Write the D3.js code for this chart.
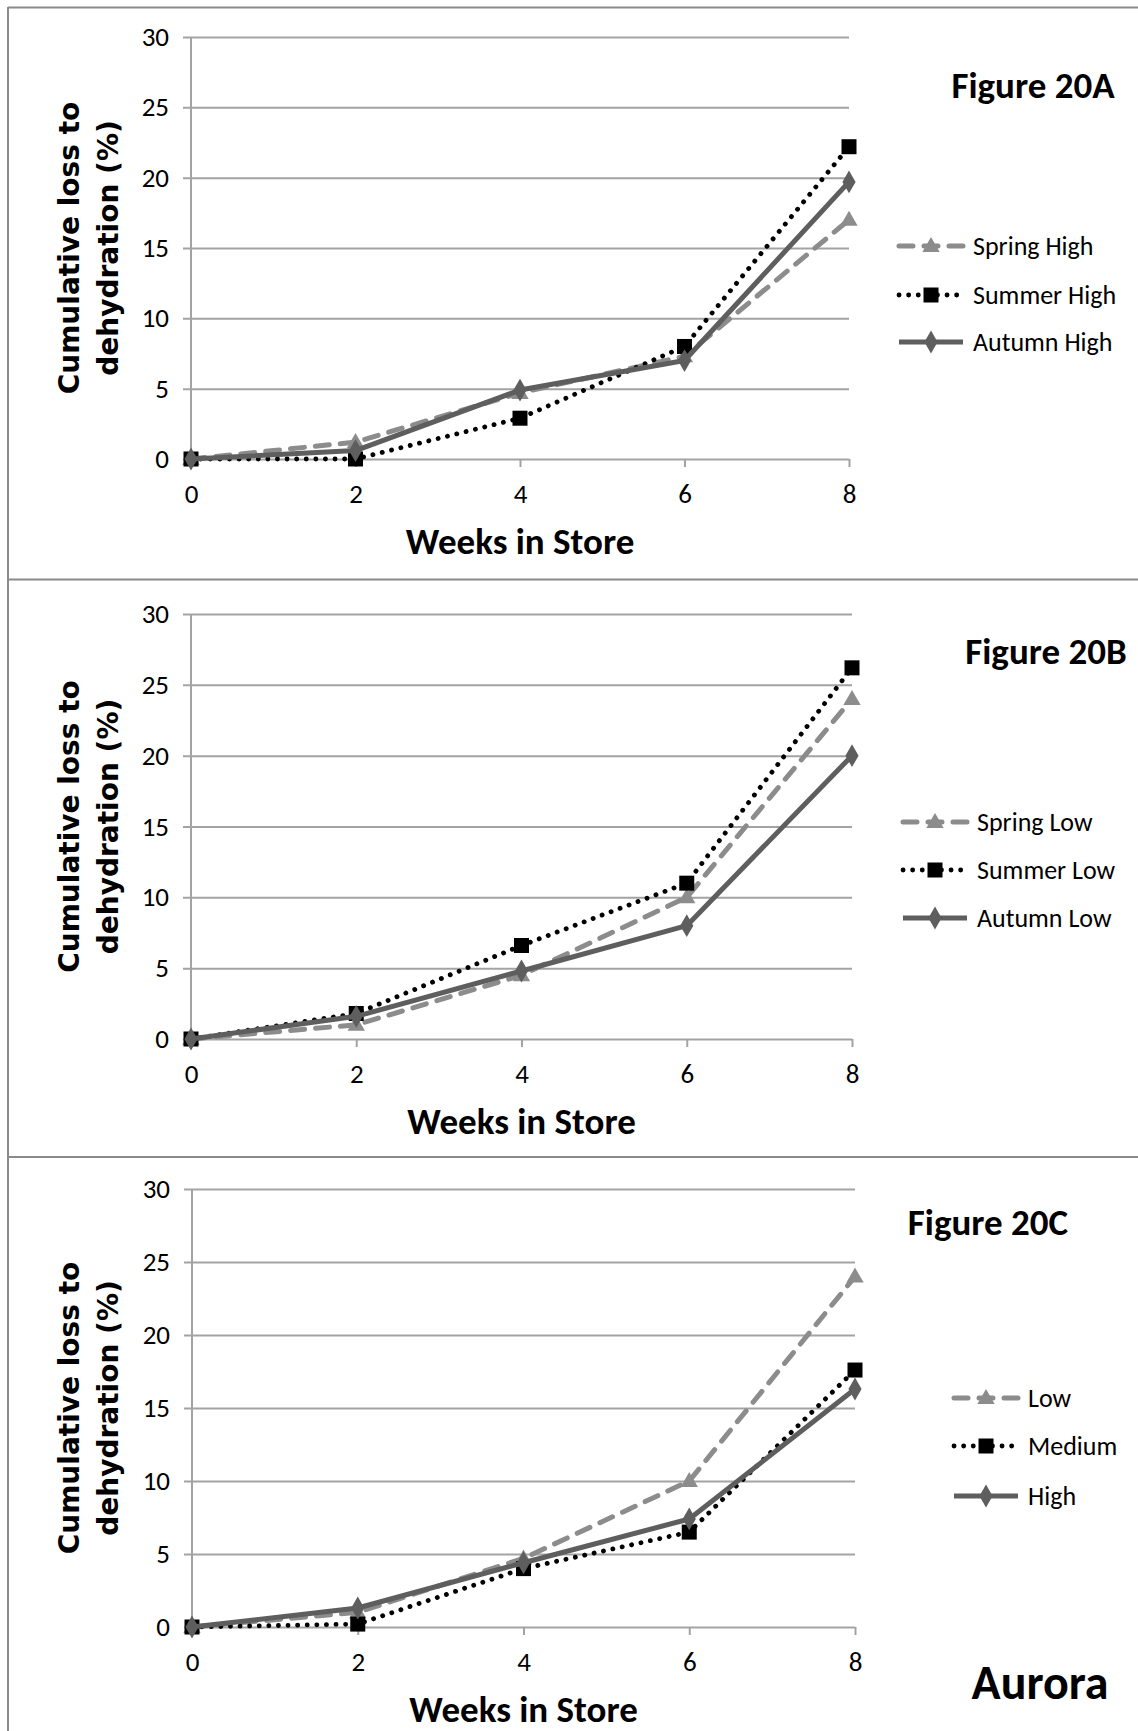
<!DOCTYPE html>
<html>
<head>
<meta charset="utf-8">
<script src="https://cdn.jsdelivr.net/npm/d3@7"></script>
<style>
  html, body { margin: 0; padding: 0; background: #fff; }
  svg { display: block; }
</style>
</head>
<body>
<svg id="chart" width="1138" height="1731"></svg>
<script>
// Weeks in store (x categories) and y-axis ticks
const weeks = [0, 2, 4, 6, 8];
const yTicks = [0, 5, 10, 15, 20, 25, 30];

// Figure 20A: high storage, by season
const springHigh = [0, 1.2, 4.7, 7.3, 17.0];
const summerHigh = [0, 0.0, 2.9, 8.0, 22.2];
const autumnHigh = [0, 0.6, 4.9, 7.0, 19.7];

// Figure 20B: low storage, by season
const springLow = [0, 1.0, 4.5, 10.0, 24.0];
const summerLow = [0, 1.8, 6.6, 11.0, 26.2];
const autumnLow = [0, 1.6, 4.8, 8.0, 20.0];

// Figure 20C: Aurora, by level
const levelLow = [0, 1.0, 4.7, 10.0, 24.0];
const levelMedium = [0, 0.2, 4.0, 6.5, 17.6];
const levelHigh = [0, 1.3, 4.4, 7.4, 16.3];

const panelTitles = ["Figure 20A", "Figure 20B", "Figure 20C"];
const legendA = ["Spring High", "Summer High", "Autumn High"];
const legendB = ["Spring Low", "Summer Low", "Autumn Low"];
const legendC = ["Low", "Medium", "High"];
const xTitle = "Weeks in Store";
const yTitleLines = ["Cumulative loss to", "dehydration (%)"];
const cornerLabel = "Aurora";

// Line styles for the three series in each panel
const styles = [
  { color: "#8c8c8c", width: 5, dash: "14,11", cap: "round", marker: "triangle" },
  { color: "#000000", width: 4.8, dash: "0.1,9.5", cap: "round", marker: "square" },
  { color: "#5e5e5e", width: 5, dash: null, cap: "butt", marker: "diamond" }
];

const panels = [
  { series: [springHigh, summerHigh, autumnHigh], legend: legendA, title: panelTitles[0],
    left: 191, right: 849, top: 37, bottom: 459,
    legX: 896, legY: [246, 295, 342], titleX: 1033, titleY: 98 },
  { series: [springLow, summerLow, autumnLow], legend: legendB, title: panelTitles[1],
    left: 191, right: 852, top: 614, bottom: 1039,
    legX: 900, legY: [822, 870, 918], titleX: 1046, titleY: 664 },
  { series: [levelLow, levelMedium, levelHigh], legend: legendC, title: panelTitles[2],
    left: 192, right: 855, top: 1189, bottom: 1627,
    legX: 951, legY: [1398, 1446, 1496], titleX: 988, titleY: 1235 }
];

const svg = d3.select("#chart");
const calibri = "Carlito, Calibri, Lato, 'Open Sans', sans-serif";
const gridColor = "#a3a3a3";
const frameColor = "#8a8a8a";

// Frame around the stacked panels
svg.append("line").attr("x1", 8).attr("x2", 1138).attr("y1", 7.5).attr("y2", 7.5)
  .attr("stroke", frameColor).attr("stroke-width", 2);
svg.append("line").attr("x1", 8).attr("x2", 8).attr("y1", 7).attr("y2", 1731)
  .attr("stroke", frameColor).attr("stroke-width", 2);
[579.5, 1157].forEach(y => {
  svg.append("line").attr("x1", 8).attr("x2", 1138).attr("y1", y).attr("y2", y)
    .attr("stroke", frameColor).attr("stroke-width", 2);
});

function drawMarker(g, type, cx, cy, color) {
  if (type === "triangle") {
    g.append("path")
      .attr("d", d3.symbol().type(d3.symbolTriangle).size(130)())
      .attr("transform", `translate(${cx},${cy + 1})`)
      .attr("fill", color);
  } else if (type === "square") {
    g.append("rect").attr("x", cx - 7.5).attr("y", cy - 7.5)
      .attr("width", 15).attr("height", 15).attr("fill", color);
  } else {
    g.append("path")
      .attr("d", d3.symbol().type(d3.symbolDiamond).size(150)())
      .attr("transform", `translate(${cx},${cy})`)
      .attr("fill", color);
  }
}

panels.forEach(p => {
  const g = svg.append("g");
  const x = d3.scalePoint().domain(weeks).range([p.left, p.right]);
  const y = d3.scaleLinear().domain([0, 30]).range([p.bottom, p.top]);

  // Horizontal gridlines with left tick marks
  const yAxis = d3.axisLeft(y).tickValues(yTicks).tickSize(-(p.right - p.left)).tickPadding(14);
  const ya = g.append("g").attr("transform", `translate(${p.left},0)`).call(yAxis);
  ya.select(".domain").remove();
  ya.selectAll(".tick line").attr("stroke", gridColor).attr("stroke-width", 2)
    .attr("x1", -8);
  ya.selectAll(".tick text").attr("font-family", calibri).attr("font-size", 27)
    .attr("fill", "#000").attr("x", -22);

  // Vertical axis line
  g.append("line").attr("x1", p.left).attr("x2", p.left)
    .attr("y1", y(30)).attr("y2", y(0))
    .attr("stroke", gridColor).attr("stroke-width", 2);

  // Category axis along zero
  const xAxis = d3.axisBottom(x).tickSize(8).tickPadding(17);
  const xa = g.append("g").attr("transform", `translate(0,${p.bottom})`).call(xAxis);
  xa.select(".domain").remove();
  xa.selectAll(".tick line").attr("stroke", gridColor).attr("stroke-width", 2);
  xa.selectAll(".tick text").attr("font-family", calibri).attr("font-size", 27).attr("fill", "#000");

  // Axis titles
  g.append("text").attr("x", (p.left + p.right) / 2).attr("y", p.bottom + 95)
    .attr("text-anchor", "middle").attr("font-family", calibri).attr("font-weight", "bold")
    .attr("font-size", 37).text(xTitle);
  const cy = (p.top + p.bottom) / 2;
  yTitleLines.forEach((t, i) => {
    const bx = i === 0 ? 79 : 118;
    g.append("text").attr("transform", `translate(${bx},${cy}) rotate(-90)`)
      .attr("text-anchor", "middle").attr("font-family", "'DejaVu Sans', Verdana, sans-serif")
      .attr("font-weight", "bold").attr("font-size", 28).text(t);
  });

  // Series lines and markers
  p.series.forEach((vals, si) => {
    const s = styles[si];
    const pts = weeks.map((w, i) => [x(w), y(vals[i])]);
    g.append("path").attr("d", d3.line()(pts))
      .attr("fill", "none").attr("stroke", s.color).attr("stroke-width", s.width)
      .attr("stroke-dasharray", s.dash).attr("stroke-linecap", s.cap)
      .attr("stroke-linejoin", "round");
    pts.forEach(pt => drawMarker(g, s.marker, pt[0], pt[1], s.color));
  });

  // Legend
  p.legend.forEach((label, si) => {
    const s = styles[si];
    const ly = p.legY[si];
    g.append("path").attr("d", d3.line()([[p.legX + 3, ly], [p.legX + 67, ly]]))
      .attr("fill", "none").attr("stroke", s.color).attr("stroke-width", s.width)
      .attr("stroke-dasharray", s.dash).attr("stroke-linecap", s.cap);
    drawMarker(g, s.marker, p.legX + 35, ly, s.color);
    g.append("text").attr("x", p.legX + 77).attr("y", ly + 9)
      .attr("font-family", calibri).attr("font-size", 26).text(label);
  });

  // Panel title
  g.append("text").attr("x", p.titleX).attr("y", p.titleY).attr("text-anchor", "middle")
    .attr("font-family", calibri).attr("font-weight", "bold").attr("font-size", 37)
    .text(p.title);
});

svg.append("text").attr("x", 1040).attr("y", 1699).attr("text-anchor", "middle")
  .attr("font-family", calibri).attr("font-weight", "bold").attr("font-size", 48)
  .text(cornerLabel);
</script>
</body>
</html>
